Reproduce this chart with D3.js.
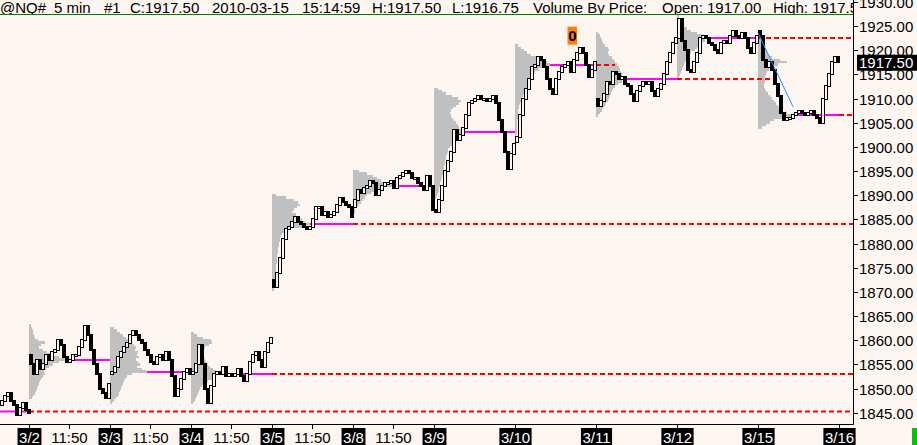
<!DOCTYPE html>
<html><head><meta charset="utf-8">
<script src="https://cdn.jsdelivr.net/npm/d3@7"></script>
<style>html,body{margin:0;padding:0;background:#fdf5ef;overflow:hidden}svg{display:block}</style>
</head><body><svg id="c" width="917" height="445"></svg>
<script>
// ---------------- DATA ----------------
const headerItems = ["@NQ#","5 min","#1","C:1917.50","2010-03-15","15:14:59","H:1917.50","L:1916.75","Volume By Price:","Open: 1917.00","High: 1917.50"];
const dateLabels = ["3/2","3/3","3/4","3/5","3/8","3/9","3/10","3/11","3/12","3/15","3/16"];
const timeLabel = "11:50";
const timeLabelDays = ["3/2","3/3","3/4","3/5","3/8"];
const yTicks = [1930,1925,1920,1915,1910,1905,1900,1895,1890,1885,1880,1875,1870,1865,1860,1855,1850,1845];
const lastPrice = 1917.50;
const barsPerDay = 81;

// closes sampled every 3 five-minute bars
const close0301 = [1847.5,1848.5,1849,1847.5,1846.5,1844.5,1846,1847,1845.5,1845];
const close0302 = [1855,1853,1856,1854,1855,1857,1856,1857.5,1858,1860,1859,1856.5,1855.5,1856,1857,1857,1858.5,1860,1863,1861,1858,1855,1853,1850,1849,1848,1851];
const close0303 = [1853.5,1854.5,1856.5,1857.5,1858.5,1859.5,1861,1862,1861,1860,1859.5,1858,1857,1855.5,1855,1856.5,1857,1856,1857.5,1856,1852.5,1848.5,1850,1852,1853.5,1854,1853];
const close0304 = [1853.5,1855,1859,1855,1850,1847,1850.5,1853,1853.5,1853,1854.5,1852.5,1853,1852.5,1853,1854,1852.5,1851.5,1853,1855.5,1857,1857.5,1856,1854.5,1857.5,1859.5,1860.5];
const close0305 = [1871,1874,1877,1881,1883,1883.5,1884.5,1885.5,1884.5,1884,1883.5,1883,1883.5,1885,1887.5,1887.5,1886,1886.5,1885.5,1886,1886.5,1888,1889.5,1888.5,1888,1887.5,1885.5];
const close0308 = [1889,1891,1890.5,1891.5,1892,1893,1892.5,1890,1891,1892,1892.5,1892.5,1893,1891.5,1893.5,1894,1894.5,1895,1894.5,1893.5,1893.5,1892.5,1892,1891,1894,1892,1887];
const close0309 = [1886.5,1889,1892,1895,1897,1899,1903.5,1901.5,1902.5,1904,1906.5,1909,1909.5,1910,1910.5,1910,1910,1909.5,1910,1910.5,1909,1905.5,1903,1899,1895.5,1898.5,1900.5];
const close0310 = [1902,1906.5,1910,1912,1914,1916.5,1917,1918.5,1918,1916.5,1914,1912,1911,1914,1915.5,1916.5,1917,1917.5,1915.5,1918,1919.5,1920.5,1919.5,1917,1914.5,1916,1917.5];
const close0311 = [1908.5,1909.5,1911,1913.5,1913,1915.5,1915,1914,1914.5,1913,1912.5,1911,1909.5,1911.5,1912.5,1913.5,1913,1913.5,1911.5,1910.5,1912,1913,1915,1917.5,1919.5,1921.5,1922.5];
const close0312 = [1926.5,1922,1920,1916,1915.5,1917.5,1919.5,1922.5,1923,1922.5,1921.5,1921,1920,1919.5,1921.5,1922,1921.5,1923,1924,1923,1922.5,1923.5,1922.5,1920.5,1919.5,1921.5,1923];
const close0315 = [1923,1918,1916.5,1917.5,1916,1913,1910.5,1907,1905.5,1906,1906,1906.5,1907,1907.5,1907,1906.5,1907,1907.5,1906.5,1906,1905,1910,1912.5,1915,1917.5,1918.5,1917.5];
const dayOpens = [1846.5,1857,1853,1853,1872.5,1887.5,1887,1901,1910,1922.5,1924];

// volume by price (relative volume per 0.50 point row, from the top price down)
const vpTops = [1863,1862.5,1861.5,1890,1895,1912,1921,1923.5,1927,1924];
const vp0302 = [2,3,4,4,5,6,9,16,12,10,14,18,24,30,40,30,24,20,17,15,16,14,12,11,10,9,8,7,6,4,3];
const vp0303 = [4,7,10,13,16,19,22,24,26,25,28,27,29,26,28,30,27,32,37,22,17,15,14,13,12,11,10,9,8,6,4,2];
const vp0304 = [3,6,12,20,21,18,14,12,11,13,12,14,15,17,19,22,25,29,24,21,17,14,11,9,8,7,6,5,4,2];
const vp0305 = [4,14,22,26,28,25,22,20,24,27,30,33,38,30,18,12,10,9,8,8,7,7,6,6,6,5,5,5,5,4,4,4,4,4,4,5,4,3,3,2];
const vp0308 = [6,14,20,24,28,34,40,30,24,18,14,12,10,8,6,3,2,2,1,1];
const vp0309 = [4,8,12,18,24,27,25,22,19,17,16,17,18,20,22,24,25,27,29,26,24,22,20,18,16,14,14,13,12,12,11,11,10,10,9,9,8,8,7,6,6,5,5,4,3,2];
const vp0310 = [3,6,9,12,16,22,28,32,35,30,24,20,18,17,16,15,13,12,11,10,9,8,7,6,5,4,4,3,3,3,3,2,2,2,2,2,2,1,1,1];
const vp0311 = [2,4,5,6,7,9,12,13,12,13,16,18,19,21,23,24,25,26,28,31,26,22,19,17,16,15,14,13,12,10,9,7,6,4,2];
const vp0312 = [2,3,4,5,7,10,14,20,26,30,28,25,22,20,18,14,11,10,9,8,7,6,5,4,3,2];
const vp0315 = [2,3,4,4,5,5,6,7,8,9,10,14,22,29,20,14,11,9,8,7,7,7,6,6,7,8,10,12,14,16,18,20,22,25,29,35,24,16,12,8,4];
// bar index where each day's POC was first revisited (null = never)
const pocTouch = [81,162,null,null,405,486,586,746,null,null];
const prevPoc0301 = 1845.25;
// drawn annotations
const trendStart = [729, 1923.6], trendEnd = [764, 1908.3];
const marker = {bar: 543, price: 1923, text: "0"};

// ---------------- CHART ----------------
const W = 917, H = 445, plotR = 853, plotT = 15, plotB = 424;
const BG = "#fdf5ef";
const FONT = "'Liberation Sans', Arial, sans-serif";
const svg = d3.select("#c");
svg.append("rect").attr("width", W).attr("height", H).attr("fill", BG);

const x = d3.scaleLinear().domain([-29, 824]).range([0, plotR]);
const y = d3.scaleLinear().domain([1845, 1925]).range([412.7, 26]);
const vol = d3.scaleLinear().domain([0, 10]).range([0, 10]);

svg.append("clipPath").attr("id","pc").append("rect")
  .attr("x",0).attr("y",plotT).attr("width",plotR).attr("height",plotB-plotT);
const plot = svg.append("g").attr("clip-path","url(#pc)");

const series = [
  {start:-29, closes: close0301},
  {start:0, closes: close0302}, {start:81, closes: close0303}, {start:162, closes: close0304},
  {start:243, closes: close0305}, {start:324, closes: close0308}, {start:405, closes: close0309},
  {start:486, closes: close0310}, {start:567, closes: close0311}, {start:648, closes: close0312},
  {start:729, closes: close0315}
];
const profiles = [vp0302,vp0303,vp0304,vp0305,vp0308,vp0309,vp0310,vp0311,vp0312,vp0315];

// volume profiles
const gProf = plot.append("g").attr("shape-rendering","crispEdges");
profiles.forEach((vp, k) => {
  const top = vpTops[k], x0 = x(k*barsPerDay);
  gProf.selectAll(null).data(vp).enter().append("rect")
    .attr("x", x0)
    .attr("y", (w,i) => y(top - 0.5*i + 0.25))
    .attr("width", w => vol(w))
    .attr("height", (w,i) => y(top - 0.5*i - 0.25) - y(top - 0.5*i + 0.25))
    .attr("fill", "#c0c0c0");
});

// POC lines
const gPoc = plot.append("g");
gPoc.append("line").attr("x1",0).attr("x2",x(0)).attr("y1",y(prevPoc0301)).attr("y2",y(prevPoc0301))
  .attr("stroke","#ff00ff").attr("stroke-width",2);
gPoc.append("line").attr("x1",x(0)).attr("x2",plotR).attr("y1",y(prevPoc0301)).attr("y2",y(prevPoc0301))
  .attr("stroke","#ff0000").attr("stroke-width",2).attr("stroke-dasharray","5,3");
profiles.forEach((vp, k) => {
  const maxW = d3.max(vp), idx = vp.indexOf(maxW);
  const p = vpTops[k] - 0.5*idx, yy = Math.round(y(p));
  const s = k*barsPerDay, e = s + barsPerDay;
  gPoc.append("line").attr("x1", x(s) + vol(maxW)).attr("x2", x(e)).attr("y1", yy).attr("y2", yy)
    .attr("stroke","#ff00ff").attr("stroke-width",2);
  const t = pocTouch[k];
  if (t === null || t > e) {
    gPoc.append("line").attr("x1", x(e)).attr("x2", t === null ? plotR : x(t)).attr("y1", yy).attr("y2", yy)
      .attr("stroke","#ff0000").attr("stroke-width",2).attr("stroke-dasharray","5,3");
  }
});

// candles
const candles = [];
series.forEach((s, k) => {
  let prev = dayOpens[k];
  s.closes.forEach((c, j) => { candles.push({bar: s.start + 3*j, o: prev, c}); prev = c; });
});
plot.append("g").attr("shape-rendering","crispEdges").selectAll("rect").data(candles).enter().append("rect")
  .attr("x", d => Math.round(x(d.bar)) + 0.5)
  .attr("y", d => Math.round(y(Math.max(d.o, d.c))) - 0.5)
  .attr("width", 3)
  .attr("height", d => Math.max(2, Math.round(y(Math.min(d.o, d.c))) - Math.round(y(Math.max(d.o, d.c))) + 1))
  .attr("fill", d => d.c >= d.o ? BG : "#000")
  .attr("stroke", "#000").attr("stroke-width", 1);

// trendline
plot.append("line").attr("x1", x(trendStart[0])).attr("y1", y(trendStart[1]))
  .attr("x2", x(trendEnd[0])).attr("y2", y(trendEnd[1]))
  .attr("stroke","#1e90ff").attr("stroke-width",1);

// marker
const mg = plot.append("g");
mg.append("rect").attr("x", x(marker.bar) - 4.5).attr("y", y(marker.price) - 9).attr("width", 9.5).attr("height", 18).attr("fill","#ff8000");
mg.append("text").attr("x", x(marker.bar) + 0.3).attr("y", y(marker.price) + 5).attr("text-anchor","middle")
  .attr("font-family", FONT).attr("font-size", 15).attr("font-weight","bold").attr("fill","#000").text(marker.text);

// header
svg.append("clipPath").attr("id","hc").append("rect").attr("x",0).attr("y",0).attr("width",plotR).attr("height",plotT);
const hx = [0,54,104,130,212,302,372,452,533,662,773];
const hg = svg.append("g").attr("clip-path","url(#hc)");
hg.selectAll("text").data(headerItems).enter().append("text")
  .attr("x", (d,i) => hx[i]).attr("y", 12.5)
  .attr("font-family", FONT).attr("font-size", 15).attr("fill","#000").text(d => d);
svg.append("line").attr("x1",0).attr("x2",plotR).attr("y1",14.5).attr("y2",14.5).attr("stroke","#008000").attr("stroke-width",1);

// axes lines
svg.append("line").attr("x1",plotR+0.5).attr("x2",plotR+0.5).attr("y1",0).attr("y2",plotB+0.5).attr("stroke","#000");
svg.append("line").attr("x1",0).attr("x2",plotR+0.5).attr("y1",plotB+0.5).attr("y2",plotB+0.5).attr("stroke","#000");

// y axis
const ya = svg.append("g");
yTicks.forEach(v => {
  const yy = Math.round(y(v)) + 0.5;
  ya.append("line").attr("x1",plotR+1).attr("x2",plotR+5).attr("y1",yy).attr("y2",yy).attr("stroke","#000");
  ya.append("text").attr("x",859).attr("y",yy+5.5).attr("font-family",FONT).attr("font-size",15).attr("fill","#000")
    .text(d3.format(".2f")(v));
});
// last price box
const ly = y(lastPrice);
ya.append("rect").attr("x",857).attr("y",ly-7.5).attr("width",60).attr("height",16).attr("fill","#000");
ya.append("text").attr("x",859).attr("y",ly+6).attr("font-family",FONT).attr("font-size",15).attr("fill","#fff")
  .text(d3.format(".2f")(lastPrice));

// x axis
const xa = svg.append("g");
const ticks = [];
dateLabels.forEach((d,k) => {
  ticks.push({bar: k*barsPerDay, label: d, date: true});
  if (timeLabelDays.includes(d)) ticks.push({bar: k*barsPerDay + 40, label: timeLabel, date: false});
});
ticks.forEach(t => {
  const xx = Math.round(x(t.bar)) + 0.5;
  xa.append("line").attr("x1",xx).attr("x2",xx).attr("y1",plotB).attr("y2",429).attr("stroke","#000");
  const tx = xa.append("text").attr("x",xx).attr("y",443).attr("text-anchor","middle")
    .attr("font-family",FONT).attr("font-size",15).attr("fill", t.date ? "#fff" : "#000").text(t.label);
  if (t.date) {
    const w = tx.node().getComputedTextLength() + 3;
    xa.insert("rect", () => tx.node()).attr("x", xx - w/2).attr("y", 428).attr("width", w).attr("height", 17).attr("fill","#000");
  }
});
svg.append("rect").attr("x",912).attr("y",428).attr("width",5).attr("height",17).attr("fill","#00c800");
</script></body></html>
